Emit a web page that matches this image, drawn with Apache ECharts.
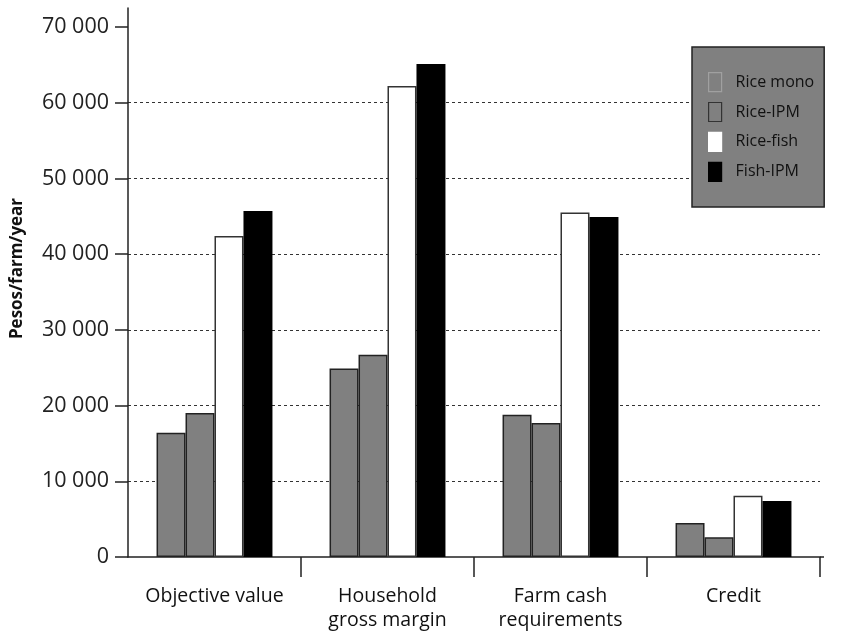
<!DOCTYPE html>
<html>
<head>
<meta charset="utf-8">
<script src="https://cdn.jsdelivr.net/npm/echarts@6/dist/echarts.min.js"></script>
<style>
html,body{margin:0;padding:0;background:#fff;}
#chart{width:847px;height:637px;}
</style>
</head>
<body>
<div id="chart"></div>
<script>
const categories = ['Objective value', 'Household\ngross margin', 'Farm cash\nrequirements', 'Credit'];
const seriesNames = ['Rice mono', 'Rice-IPM', 'Rice-fish', 'Fish-IPM'];
const riceMono = [16400, 24900, 18800, 4500];
const riceIPM  = [19000, 26700, 17700, 2600];
const riceFish = [42400, 62200, 45500, 8100];
const fishIPM  = [45700, 65100, 44900, 7400];
const yTicks = [0, 10000, 20000, 30000, 40000, 50000, 60000, 70000];

const FONT = 'Open Sans';
const fills = ['#808080', '#808080', '#ffffff', '#000000'];
const borders = ['#222222', '#222222', '#333333', '#000000'];
const legendBorders = ['#a0a0a0', '#333333', '#ffffff', '#000000'];
const dataArr = [riceMono, riceIPM, riceFish, fishIPM];

const chart = echarts.init(document.getElementById('chart'), null, {renderer: 'canvas'});
const fmt = v => {
  const s = String(Math.round(v));
  return s.replace(/\B(?=(\d{3})+(?!\d))/g, ' ');
};
chart.setOption({
  animation: false,
  backgroundColor: '#ffffff',
  grid: {left: 128, right: 27, top: 8, bottom: 80, containLabel: false, outerBoundsMode: 'none'},
  legend: {
    orient: 'vertical',
    left: 692, top: 47,
    backgroundColor: '#808080',
    borderColor: '#222222',
    borderWidth: 1.5,
    borderRadius: 0,
    padding: [25, 10, 25, 16],
    itemWidth: 13, itemHeight: 19, itemGap: 9.7,
    textStyle: {fontFamily: FONT, fontSize: 16, lineHeight: 19, color: '#111', padding: [0, 0, 0, 9]},
    data: seriesNames.map((n, i) => ({name: n, icon: 'rect',
      itemStyle: {color: fills[i], borderColor: legendBorders[i], borderWidth: 1.2}}))
  },
  xAxis: {
    type: 'category',
    data: categories,
    boundaryGap: true,
    axisLine: {lineStyle: {color: '#222', width: 1.5}},
    axisTick: {show: true, length: 20, lineStyle: {color: '#222', width: 1.5},
      interval: function (index) { return index > 0; }},
    axisLabel: {fontFamily: FONT, fontSize: 19.5, color: '#111', margin: 27, lineHeight: 24, interval: 0}
  },
  yAxis: {
    type: 'value',
    min: 0, max: 72500, interval: 10000,
    name: 'Pesos/farm/year',
    nameLocation: 'middle',
    nameGap: 102,
    nameTextStyle: {fontFamily: FONT, fontSize: 17, fontWeight: 'bold', color: '#111', padding: [0, 0, 0, 28]},
    axisLine: {show: true, lineStyle: {color: '#222', width: 1.5}},
    axisTick: {show: true, length: 13, customValues: yTicks, lineStyle: {color: '#222', width: 1.5}},
    axisLabel: {fontFamily: FONT, fontSize: 21.5, color: '#222', margin: 19, customValues: yTicks, formatter: fmt},
    splitLine: {show: true, showMaxLine: false, showMinLine: false, lineStyle: {color: '#333', width: 1, type: [3, 3]}}
  },
  graphic: [{
    type: 'line', z: 10,
    shape: {x1: 820, y1: 557, x2: 824, y2: 557},
    style: {stroke: '#222', lineWidth: 1.5}
  }],
  series: seriesNames.map((n, i) => ({
    name: n,
    type: 'bar',
    data: dataArr[i],
    barGap: '0%',
    barCategoryGap: '33%',
    itemStyle: {color: fills[i], borderColor: borders[i], borderWidth: 1.5}
  }))
});
</script>
</body>
</html>
